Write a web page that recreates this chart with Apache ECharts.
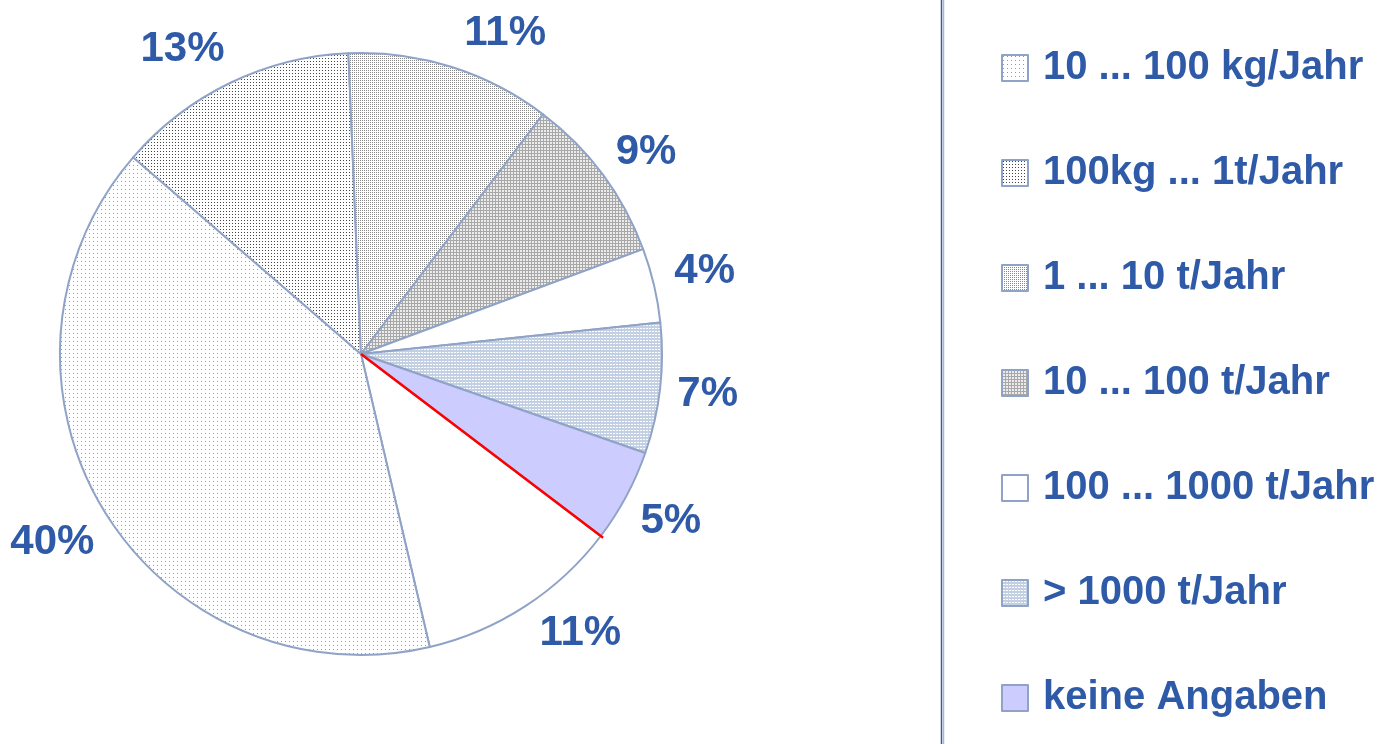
<!DOCTYPE html>
<html>
<head>
<meta charset="utf-8">
<title>Mengen pro Jahr</title>
<script src="https://cdn.jsdelivr.net/npm/echarts@6/dist/echarts.min.js"></script>
<style>
  html, body { margin: 0; padding: 0; background: #fff; }
  #chart { width: 1387px; height: 744px; }
</style>
</head>
<body>
<div id="chart"></div>
<script>
// Kategorien in Reihenfolge der Datenreihe (erster Eintrag liegt im Original ausserhalb der Legende)
const categories = [
  '< 10 kg/Jahr',
  '10 ... 100 kg/Jahr',
  '100kg ... 1t/Jahr',
  '1 ... 10 t/Jahr',
  '10 ... 100 t/Jahr',
  '100 ... 1000 t/Jahr',
  '> 1000 t/Jahr',
  'keine Angaben'
];
const shares = [11, 40, 13, 11, 9, 4, 7, 5];
const legendNames = categories.slice(1);

const CENTER = [361, 354];
const RADIUS = 301;
const START_ANGLE = -37.2;
const TEXT_BLUE = '#2e5aa7';
const EDGE = '#8fa3c7';
// Excel schiebt einige Beschriftungen leicht vom Segmentmittel weg
const labelNudge = [[26, -18], [-5, 5], [-24, 15], [38, 18], [0, 10], [-2, -2], [-6, 0], [-3, 0]];

// kleine Punktraster wie im Excel-Original
function pattern(bg, dot, step, cells) {
  const c = document.createElement('canvas');
  c.width = step;
  c.height = step;
  const ctx = c.getContext('2d');
  ctx.fillStyle = bg;
  ctx.fillRect(0, 0, step, step);
  ctx.fillStyle = dot;
  cells.forEach(p => ctx.fillRect(p[0], p[1], 1, 1));
  return { image: c, repeat: 'repeat' };
}

const fills = [
  '#ffffff',
  pattern('#ffffff', '#9a9a9a', 4, [[1, 1]]),
  pattern('#ffffff', '#444444', 3, [[1, 1]]),
  pattern('#ffffff', '#8a8a8a', 2, [[0, 0]]),
  pattern('#ececec', '#a8a8a8', 3, [[0, 0], [1, 0], [2, 0], [0, 1], [0, 2]]),
  '#ffffff',
  pattern('#c3cfe2', '#ffffff', 3, [[1, 1], [2, 1]]),
  '#ccccff'
];

const pieData = categories.map((name, i) => ({
  name: name,
  value: shares[i],
  itemStyle: { color: fills[i] }
}));

const labelData = categories.map((name, i) => ({
  name: name,
  value: shares[i],
  label: { offset: labelNudge[i] }
}));

const chart = echarts.init(document.getElementById('chart'));

// rote Startlinie des ersten Segments
const rad = START_ANGLE * Math.PI / 180;
const lineEnd = [
  CENTER[0] + (RADIUS + 3) * Math.cos(rad),
  CENTER[1] - (RADIUS + 3) * Math.sin(rad)
];

const option = {
  animation: false,
  backgroundColor: '#ffffff',
  legend: {
    data: legendNames,
    orient: 'vertical',
    left: 996,
    top: 43,
    itemWidth: 26,
    itemHeight: 26,
    itemGap: 65,
    icon: 'rect',
    selectedMode: false,
    formatter: '{n|{name}}',
    textStyle: {
      rich: {
        n: {
          fontFamily: 'Liberation Sans, Arial, sans-serif',
          fontWeight: 'bold',
          fontSize: 40,
          lineHeight: 40,
          color: TEXT_BLUE,
          padding: [0, 0, 0, 10]
        }
      }
    }
  },
  graphic: [
    {
      type: 'line',
      silent: true,
      shape: { x1: 941.5, y1: 0, x2: 941.5, y2: 744 },
      style: { stroke: '#3a5ca6', lineWidth: 1.5 }
    },
    {
      type: 'line',
      silent: true,
      shape: { x1: 943.5, y1: 0, x2: 943.5, y2: 744 },
      style: { stroke: '#a3b8dc', lineWidth: 1.5 }
    },
    {
      type: 'line',
      silent: true,
      z: 100,
      shape: { x1: CENTER[0], y1: CENTER[1], x2: lineEnd[0], y2: lineEnd[1] },
      style: { stroke: '#ff0000', lineWidth: 2.5 }
    }
  ],
  series: [
    {
      type: 'pie',
      center: CENTER,
      radius: RADIUS,
      startAngle: START_ANGLE,
      clockwise: true,
      silent: true,
      label: { show: false },
      labelLine: { show: false },
      itemStyle: { borderColor: EDGE, borderWidth: 2 },
      data: pieData
    },
    {
      // unsichtbarer Ring nur für die Prozent-Beschriftung
      type: 'pie',
      center: CENTER,
      radius: [RADIUS, RADIUS + 102],
      startAngle: START_ANGLE,
      clockwise: true,
      silent: true,
      legendHoverLink: false,
      itemStyle: { color: 'rgba(0,0,0,0)', borderWidth: 0 },
      label: {
        show: true,
        position: 'inside',
        formatter: '{c}%',
        fontFamily: 'Liberation Sans, Arial, sans-serif',
        fontWeight: 'bold',
        fontSize: 42,
        color: TEXT_BLUE,
        textBorderWidth: 0
      },
      labelLine: { show: false },
      data: labelData
    }
  ]
};

chart.setOption(option);
</script>
</body>
</html>
